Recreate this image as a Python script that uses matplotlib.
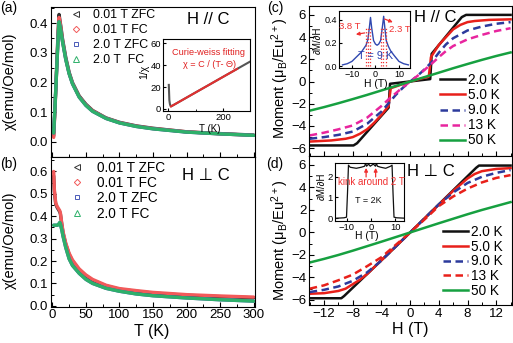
import matplotlib
matplotlib.use('Agg')
import matplotlib.pyplot as plt
from matplotlib.lines import Line2D
from matplotlib.ticker import MultipleLocator

plt.rcParams['font.family'] = ['Liberation Sans', 'DejaVu Sans']
plt.rcParams['mathtext.fontset'] = 'custom'
plt.rcParams['mathtext.rm'] = 'Liberation Sans'
plt.rcParams['mathtext.it'] = 'Liberation Sans:italic'
plt.rcParams['mathtext.default'] = 'regular'
plt.rcParams['xtick.direction'] = 'in'
plt.rcParams['ytick.direction'] = 'in'
plt.rcParams['axes.linewidth'] = 0.8

# ---------------- data ----------------
# (a) H // C susceptibility
T_a = [2, 4, 6, 8, 9, 10, 11, 13, 15, 20, 25, 30, 40, 50, 60, 80, 100, 125, 150, 200, 250, 300]
chi_a_zfc001 = [0.02, 0.12, 0.23, 0.34, 0.39, 0.43, 0.415, 0.385, 0.35, 0.285, 0.235, 0.2, 0.155, 0.127, 0.106, 0.081, 0.066, 0.054, 0.046, 0.034, 0.028, 0.023]
chi_a_fc001 = [0.015, 0.11, 0.22, 0.33, 0.385, 0.42, 0.41, 0.38, 0.345, 0.28, 0.232, 0.198, 0.153, 0.125, 0.105, 0.08, 0.065, 0.053, 0.045, 0.034, 0.027, 0.022]
chi_a_zfc2 = [0.03, 0.12, 0.22, 0.32, 0.37, 0.405, 0.395, 0.37, 0.34, 0.278, 0.23, 0.196, 0.151, 0.123, 0.103, 0.079, 0.064, 0.052, 0.044, 0.033, 0.027, 0.022]
chi_a_fc2 = [0.03, 0.12, 0.22, 0.32, 0.37, 0.405, 0.395, 0.37, 0.34, 0.278, 0.23, 0.196, 0.151, 0.123, 0.103, 0.079, 0.064, 0.052, 0.044, 0.033, 0.027, 0.022]

# inset (a): 1/chi and Curie-Weiss fit
T_inv = [2, 4, 6, 8, 10, 20, 50, 100, 150, 200, 250, 295]
inv_chi = [22, 8, 4.5, 3, 2.35, 3.7, 8, 15.2, 22.3, 29.5, 36.6, 43.0]
T_fit = [10, 250]
inv_fit = [2.3, 36.6]

# (b) H perp C susceptibility
T_b = [2, 3, 5, 7, 9, 11, 12, 14, 16, 20, 25, 30, 40, 50, 60, 80, 100, 125, 150, 200, 250, 300]
chi_b_fc001 = [0.60, 0.52, 0.46, 0.445, 0.435, 0.425, 0.415, 0.37, 0.33, 0.28, 0.235, 0.205, 0.165, 0.138, 0.118, 0.092, 0.077, 0.068, 0.06, 0.05, 0.044, 0.039]
chi_b_zfc001 = [0.58, 0.51, 0.455, 0.44, 0.43, 0.42, 0.41, 0.365, 0.325, 0.275, 0.23, 0.2, 0.16, 0.134, 0.114, 0.089, 0.074, 0.065, 0.057, 0.047, 0.041, 0.036]
chi_b_zfc2 = [0.36, 0.36, 0.36, 0.36, 0.362, 0.372, 0.365, 0.34, 0.31, 0.26, 0.21, 0.18, 0.145, 0.118, 0.1, 0.078, 0.065, 0.053, 0.045, 0.035, 0.027, 0.021]
chi_b_fc2 = [0.36, 0.36, 0.36, 0.36, 0.362, 0.372, 0.365, 0.34, 0.31, 0.26, 0.21, 0.18, 0.145, 0.118, 0.1, 0.078, 0.065, 0.053, 0.045, 0.035, 0.027, 0.021]

# (c) M(H), H // C
H_c_2K = [-14, -7.9, -7.4, -3.0, -2.9, -2.8, 2.8, 2.9, 3.0, 7.2, 7.8, 14]
M_c_2K = [-5.75, -5.75, -5.55, -2.35, -1.2, -0.2, 0.22, 1.3, 2.5, 5.8, 6.0, 6.0]
H_c_5K = [-14, -11, -9, -8, -7, -6, -5, -4, -3.0, -2.85, -2.7, 0, 2.6, 2.75, 2.9, 4, 5, 6, 7, 8, 9, 11, 14]
M_c_5K = [-5.4, -5.3, -5.15, -5.0, -4.7, -4.3, -3.7, -3.0, -2.2, -1.3, -0.6, 0.0, 0.45, 1.3, 2.2, 3.3, 4.0, 4.7, 5.1, 5.35, 5.45, 5.55, 5.6]
H_c = [-14, -12, -10, -8, -6, -4, -3, -2, -1, 0, 1, 2, 3, 4, 5, 6, 8, 10, 12, 14]
M_c_9K = [-5.15, -5.0, -4.8, -4.5, -3.8, -2.7, -1.95, -1.2, -0.55, 0, 0.5, 1.1, 1.75, 2.6, 3.35, 3.9, 4.6, 4.95, 5.2, 5.35]
M_c_13K = [-4.85, -4.6, -4.3, -3.95, -3.25, -2.2, -1.6, -1.05, -0.5, 0, 0.5, 1.05, 1.6, 2.2, 2.75, 3.2, 3.8, 4.2, 4.55, 4.8]
H_c_50 = [-14, -12, -10, -8, -6, -4, -2, 0, 2, 4, 6, 8, 10, 12, 14]
M_c_50K = [-2.62, -2.3, -1.95, -1.58, -1.2, -0.8, -0.4, 0, 0.4, 0.8, 1.2, 1.58, 1.95, 2.3, 2.62]

# inset (c): dM/dH at 9 K
H_ic = [-14, -12, -10, -8, -7, -6, -5, -4, -3.2, -2.6, -2.1, -1.6, -0.8, 0, 0.7, 1.4, 2.2, 2.9, 3.5, 4.0, 4.6, 5.5, 6.5, 8, 10, 12, 14]
dM_ic = [0.01, 0.02, 0.04, 0.08, 0.1, 0.12, 0.15, 0.18, 0.23, 0.33, 0.42, 0.33, 0.22, 0.19, 0.18, 0.19, 0.22, 0.33, 0.43, 0.33, 0.22, 0.17, 0.13, 0.09, 0.04, 0.02, 0.01]
H_dot_left = [-4.2, -3.2, -2.2]
H_dot_right = [2.4, 3.4, 4.4]

# (d) M(H), H perp C
H_d_2K = [-14, -9.6, -9.2, -2, 2, 9.2, 9.6, 14]
M_d_2K = [-5.85, -5.85, -5.65, -1.25, 1.25, 5.75, 5.95, 5.95]
H_d_5K = [-14, -12, -10, -9, -8, -7, -6, 0, 6, 7, 8, 9, 10, 12, 14]
M_d_5K = [-5.45, -5.4, -5.2, -5.0, -4.6, -4.2, -3.7, 0, 3.7, 4.25, 4.8, 5.2, 5.45, 5.65, 5.72]
H_d = [-14, -12, -10, -8, -6, -4, -2, 0, 2, 4, 6, 8, 10, 12, 14]
M_d_9K = [-5.3, -5.1, -4.8, -4.3, -3.55, -2.5, -1.25, 0, 1.25, 2.5, 3.55, 4.4, 4.95, 5.3, 5.55]
M_d_13K = [-5.0, -4.7, -4.25, -3.75, -3.0, -2.2, -1.1, 0, 1.15, 2.35, 3.2, 3.9, 4.45, 4.85, 5.1]
M_d_50K = [-2.67, -2.35, -2.0, -1.62, -1.22, -0.82, -0.41, 0, 0.41, 0.82, 1.22, 1.62, 2.0, 2.35, 2.7]

# inset (d): dM/dH at 2 K
H_id = [-14, -11, -10, -9.6, -9.2, -8.5, -6, -4, -2.6, -2.2, -1.8, -1.0, -0.3, 0.3, 1.0, 1.8, 2.2, 2.6, 4, 6, 8.0, 8.6, 9.0, 9.4, 10.5, 14]
dM_id = [0.0, 0.02, 0.05, 1.2, 2.55, 2.45, 2.4, 2.45, 2.5, 2.65, 2.5, 2.6, 2.5, 2.55, 2.6, 2.5, 2.65, 2.5, 2.45, 2.4, 2.5, 2.55, 1.2, 0.05, 0.02, 0.0]

series_labels_a = ['0.01 T ZFC', '0.01 T FC', '2.0 T ZFC', '2.0 T  FC']
series_labels_b = ['0.01 T ZFC', '0.01 T FC', '2.0 T ZFC', '2.0 T FC']
temp_labels = ['2.0 K', '5.0 K', '9.0 K', '13 K', '50 K']

# ---------------- layout ----------------
W, Hh = 513, 343
fig = plt.figure(figsize=(W / 100, Hh / 100), dpi=100)


def rect(l, t, r, b):
    return [l / W, 1 - b / Hh, (r - l) / W, (b - t) / Hh]


axa = fig.add_axes(rect(51, 6.7, 255, 156.7))
axb = fig.add_axes(rect(51, 156.7, 255, 306.7))
axc = fig.add_axes(rect(309, 6, 512, 156))
axd = fig.add_axes(rect(309, 156, 512, 305))

BLACK = '#111111'
RED = '#e8201a'
BLUE = '#2c3a9c'
MAG = '#e8259e'
GREEN = '#16a040'

c_a = ['#333333', '#f25a5a', '#4a5ab8', '#2eb06a']
mk = ['<', 'D', 's', '^']
ms = [4, 3.2, 3.5, 4]

# panel (a)
for y, c in zip([chi_a_zfc001, chi_a_fc001, chi_a_zfc2, chi_a_fc2], c_a):
    axa.plot(T_a, y, color=c, lw=2.4, solid_capstyle='round')
axa.set_xlim(-2, 302)
axa.set_ylim(-0.05, 0.456)
axa.xaxis.set_major_locator(MultipleLocator(50))
axa.xaxis.set_minor_locator(MultipleLocator(25))
axa.yaxis.set_major_locator(MultipleLocator(0.1))
axa.yaxis.set_minor_locator(MultipleLocator(0.05))
axa.set_xticklabels([])
axa.set_ylabel('χ(emu/Oe/mol)', fontsize=10.5, va='center')
axa.yaxis.set_label_coords(-0.2, 0.5)
h_a = [Line2D([], [], ls='none', marker=m, ms=s, mfc='none', mec=c, mew=0.7) for m, s, c in zip(mk, ms, c_a)]
axa.legend(h_a, series_labels_a, loc='upper left', bbox_to_anchor=(70.1 / W, 1 - 9.0 / Hh),
           bbox_transform=fig.transFigure, frameon=False, fontsize=8.9, handlelength=1.0,
           handletextpad=0.85, labelspacing=0.25, borderpad=0, borderaxespad=0)
axa.text(0.877, 0.918, 'H // C', transform=axa.transAxes, ha='right', va='center', fontsize=12)

# panel (b)
for y, c in zip([chi_b_zfc001, chi_b_fc001, chi_b_zfc2, chi_b_fc2], c_a):
    axb.plot(T_b, y, color=c, lw=2.4, solid_capstyle='round')
axb.set_xlim(-2, 302)
axb.set_ylim(-0.004, 0.666)
axb.xaxis.set_major_locator(MultipleLocator(50))
axb.xaxis.set_minor_locator(MultipleLocator(25))
axb.yaxis.set_major_locator(MultipleLocator(0.1))
axb.yaxis.set_minor_locator(MultipleLocator(0.05))
axb.set_ylabel('χ(emu/Oe/mol)', fontsize=10.5, va='center')
axb.yaxis.set_label_coords(-0.2, 0.445)
axb.set_xlabel('T (K)', fontsize=11.5, va='center')
axb.xaxis.set_label_coords(0.494, -0.163)
h_b = [Line2D([], [], ls='none', marker=m, ms=s, mfc='none', mec=c, mew=0.7) for m, s, c in zip(mk, ms, c_a)]
axb.legend(h_b, series_labels_b, loc='upper left', bbox_to_anchor=(70.7 / W, 1 - 160.5 / Hh),
           bbox_transform=fig.transFigure, frameon=False, fontsize=9.8, handlelength=0.95,
           handletextpad=1.0, labelspacing=0.1, borderpad=0, borderaxespad=0)
axb.text(0.877, 0.878, 'H ⊥ C', transform=axb.transAxes, ha='right', va='center', fontsize=12)

# inset (a)
ia = fig.add_axes(rect(163.3, 39.3, 250, 110.7))
ia.plot(T_inv, inv_chi, color='#555555', lw=1.5)
ia.plot(T_fit, inv_fit, color='#e03030', lw=1.5)
ia.set_xlim(-18, 297)
ia.set_ylim(-1.6, 63.7)
ia.xaxis.set_major_locator(MultipleLocator(200))
ia.xaxis.set_minor_locator(MultipleLocator(100))
ia.yaxis.set_major_locator(MultipleLocator(20))
ia.tick_params(labelsize=6.8, length=2.5, pad=1.5)
ia.tick_params(which='minor', length=1.5)
ia.set_xlabel('T (K)', fontsize=7, va='center')
ia.xaxis.set_label_coords(0.539, -0.26)
ia.set_ylabel('1/χ', fontsize=7.5, va='center')
ia.yaxis.set_label_coords(-0.22, 0.55)
ia.text(0.52, 0.82, 'Curie-weiss fitting', transform=ia.transAxes, ha='center', va='center', fontsize=6.6, color='#e02020')
ia.text(0.53, 0.65, 'χ = C / (T- Θ)', transform=ia.transAxes, ha='center', va='center', fontsize=6.6, color='#e02020')

# panel (c)
axc.plot(H_c_2K, M_c_2K, color=BLACK, lw=1.8)
axc.plot(H_c_5K, M_c_5K, color=RED, lw=1.8)
axc.plot(H_c, M_c_9K, color=BLUE, lw=1.8, dashes=(3, 1.8))
axc.plot(H_c, M_c_13K, color=MAG, lw=1.8, dashes=(3, 1.8))
axc.plot(H_c_50, M_c_50K, color=GREEN, lw=1.8)
axc.set_xlim(-14.1, 14.2)
axc.set_ylim(-6.7, 6.8)
axc.xaxis.set_major_locator(MultipleLocator(4))
axc.xaxis.set_minor_locator(MultipleLocator(2))
axc.yaxis.set_major_locator(MultipleLocator(2))
axc.yaxis.set_minor_locator(MultipleLocator(1))
axc.set_xticklabels([])
axc.set_ylabel(r'Moment ($\mu_B$/Eu$^{2+}$)', fontsize=10.5, va='center')
axc.yaxis.set_label_coords(-0.14, 0.518)
h_c = [Line2D([], [], color=BLACK, lw=1.8), Line2D([], [], color=RED, lw=1.8),
       Line2D([], [], color=BLUE, lw=1.8, dashes=(3, 1.8)), Line2D([], [], color=MAG, lw=1.8, dashes=(3, 1.8)),
       Line2D([], [], color=GREEN, lw=1.8)]
axc.legend(h_c, temp_labels, loc='upper left', bbox_to_anchor=(440 / W, 1 - 73.1 / Hh),
           bbox_transform=fig.transFigure, frameon=False, fontsize=9.8, handlelength=1.84,
           handletextpad=0.25, labelspacing=0.08, borderpad=0, borderaxespad=0)
axc.text(0.729, 0.92, 'H // C', transform=axc.transAxes, ha='right', va='center', fontsize=12)

# inset (c)
ic = fig.add_axes(rect(339, 10.5, 410, 68))
ic.plot(H_ic, dM_ic, color='#3048b0', lw=1.0)
for hx in H_dot_left + H_dot_right:
    ic.plot([hx, hx], [0, 0.33], color='#f03030', lw=0.9, ls=':')
ic.set_xlim(-15.5, 14.7)
ic.set_ylim(-0.017, 0.48)
ic.xaxis.set_major_locator(MultipleLocator(10))
ic.set_yticks([0.0, 0.2, 0.4])
ic.set_yticklabels(['0.0', '0.2', '0.4'])
ic.tick_params(labelsize=6.5, length=2, pad=1.5)
ic.set_xlabel('H (T)', fontsize=7.5, va='center')
ic.xaxis.set_label_coords(0.521, -0.27)
ic.set_ylabel('∂M/∂H', fontsize=7, va='center')
ic.yaxis.set_label_coords(-0.30, 0.487)
ic.annotate('', xy=(-9.5, 0.27), xytext=(-3.4, 0.29),
            arrowprops=dict(arrowstyle='-|>', color='#f03030', lw=0.9, mutation_scale=5))
ic.annotate('', xy=(8.5, 0.37), xytext=(2.8, 0.415),
            arrowprops=dict(arrowstyle='-|>', color='#f03030', lw=0.9, mutation_scale=5))
ic.text(-11.0, 0.34, '3.8 T', ha='center', va='center', fontsize=6.8, color='#f03030')
ic.text(10.5, 0.32, '2.3 T', ha='center', va='center', fontsize=6.8, color='#f03030')
ic.text(0.0, 0.09, 'T = 9 K', ha='center', va='center', fontsize=7.8, color='#2a40b0')

# panel (d)
axd.plot(H_d_2K, M_d_2K, color=BLACK, lw=1.8)
axd.plot(H_d_5K, M_d_5K, color=RED, lw=1.8)
axd.plot(H_d, M_d_9K, color=BLUE, lw=1.8, dashes=(3, 1.8))
axd.plot(H_d, M_d_13K, color=RED, lw=1.8, dashes=(3, 1.8))
axd.plot(H_d, M_d_50K, color=GREEN, lw=1.8)
axd.set_xlim(-14.1, 14.2)
axd.set_ylim(-6.45, 6.8)
axd.xaxis.set_major_locator(MultipleLocator(4))
axd.xaxis.set_minor_locator(MultipleLocator(2))
axd.yaxis.set_major_locator(MultipleLocator(2))
axd.yaxis.set_minor_locator(MultipleLocator(1))
axd.set_ylabel(r'Moment ($\mu_B$/Eu$^{2+}$)', fontsize=10.5, va='center')
axd.yaxis.set_label_coords(-0.14, 0.43)
axd.set_xlabel('H (T)', fontsize=11.5, va='center')
axd.xaxis.set_label_coords(0.498, -0.165)
h_d = [Line2D([], [], color=BLACK, lw=1.8), Line2D([], [], color=RED, lw=1.8),
       Line2D([], [], color=BLUE, lw=1.8, dashes=(3, 1.8)), Line2D([], [], color=RED, lw=1.8, dashes=(3, 1.8)),
       Line2D([], [], color=GREEN, lw=1.8)]
axd.legend(h_d, temp_labels, loc='upper left', bbox_to_anchor=(443 / W, 1 - 225.1 / Hh),
           bbox_transform=fig.transFigure, frameon=False, fontsize=9.8, handlelength=1.84,
           handletextpad=0.25, labelspacing=0.05, borderpad=0, borderaxespad=0)
axd.text(0.719, 0.895, 'H ⊥ C', transform=axd.transAxes, ha='right', va='center', fontsize=12)

# inset (d)
idd = fig.add_axes(rect(335, 163.3, 404.3, 220.7))
idd.plot(H_id, dM_id, color=BLACK, lw=0.9)
idd.set_xlim(-14.7, 13.6)
idd.set_ylim(-0.12, 2.64)
idd.xaxis.set_major_locator(MultipleLocator(10))
idd.yaxis.set_major_locator(MultipleLocator(1))
idd.tick_params(labelsize=6.8, length=2, pad=1.5)
idd.set_xlabel('H (T)', fontsize=7.5, va='center')
idd.xaxis.set_label_coords(0.455, -0.27)
idd.set_ylabel('∂M/∂H', fontsize=7, va='center')
idd.yaxis.set_label_coords(-0.19, 0.6)
for hx in [-2.0, 1.9]:
    idd.annotate('', xy=(hx, 2.55), xytext=(hx, 1.85),
                 arrowprops=dict(arrowstyle='-|>', color='#f03030', lw=0.9, mutation_scale=5))
idd.text(0.0, 1.72, 'kink around 2 T', ha='center', va='center', fontsize=7, color='#f03030')
idd.text(-1.3, 0.85, 'T = 2K', ha='center', va='center', fontsize=6.5, color=BLACK)

for ax in [axa, axb, axc, axd]:
    ax.tick_params(labelsize=9.5, length=3.5, width=0.8, pad=2.0)
    ax.tick_params(which='minor', length=2, width=0.7)

fig.text(8.5 / W, 1 - 8 / Hh, '(a)', fontsize=10, ha='center', va='center')
fig.text(8.5 / W, 1 - 164 / Hh, '(b)', fontsize=10, ha='center', va='center')
fig.text(275 / W, 1 - 8 / Hh, '(c)', fontsize=10, ha='center', va='center')
fig.text(275 / W, 1 - 164 / Hh, '(d)', fontsize=10, ha='center', va='center')

fig.savefig('out.png', dpi=100)
